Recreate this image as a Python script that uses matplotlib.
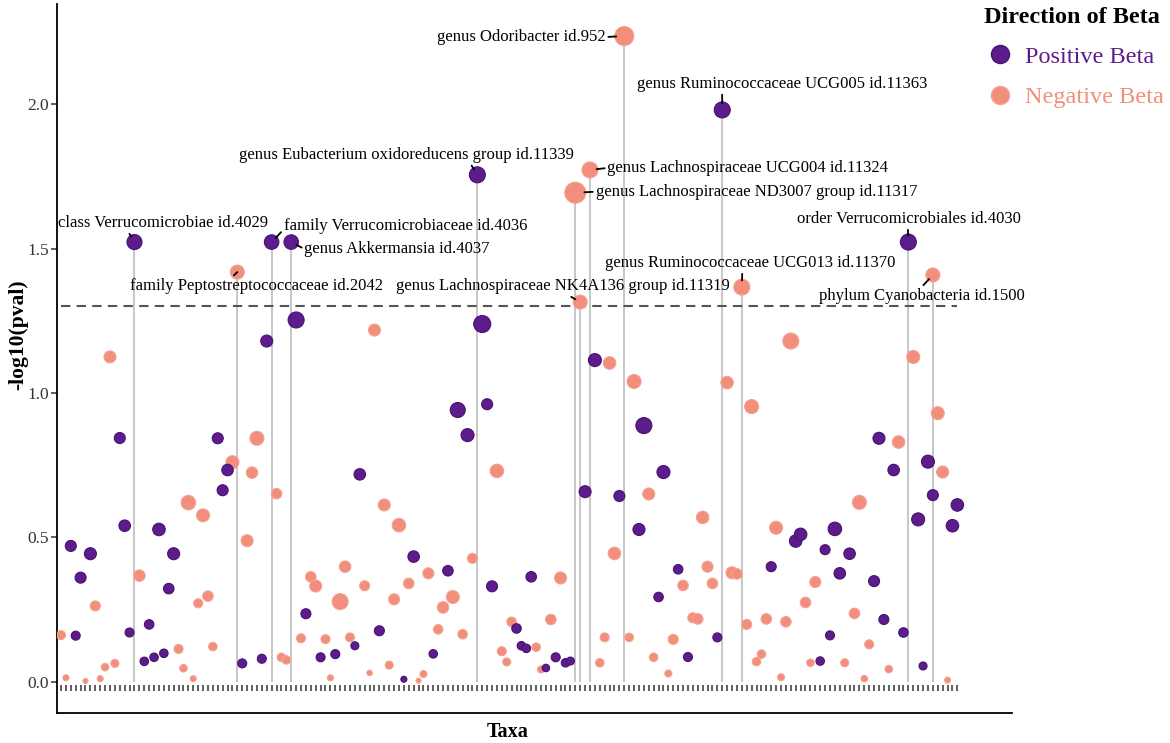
import numpy as np
import matplotlib.pyplot as plt
from matplotlib.lines import Line2D

plt.rcParams['font.family'] = ['Liberation Serif', 'DejaVu Serif']

# category index of each taxon on the x axis, -log10(p), direction of beta, point size variable
pos = list(range(0, 179)) + [178] + list(range(179, 184))
neglogp = [
    0.161, 0.013, 0.470, 0.159, 0.360, 0.002, 0.443, 0.262, 0.010, 0.050,
    1.125, 0.063, 0.844, 0.540, 0.170, 1.523, 0.367, 0.070, 0.198, 0.084,
    0.527, 0.098, 0.322, 0.443, 0.113, 0.046, 0.620, 0.010, 0.271, 0.576,
    0.296, 0.121, 0.843, 0.663, 0.733, 0.760, 1.419, 0.063, 0.488, 0.724,
    0.843, 0.079, 1.180, 1.523, 0.651, 0.084, 0.075, 1.523, 1.253, 0.150,
    0.235, 0.363, 0.331, 0.084, 0.147, 0.013, 0.095, 0.277, 0.398, 0.153,
    0.124, 0.718, 0.332, 0.030, 1.218, 0.176, 0.612, 0.057, 0.285, 0.542,
    0.008, 0.340, 0.433, 0.003, 0.026, 0.375, 0.096, 0.181, 0.257, 0.384,
    0.293, 0.941, 0.164, 0.854, 0.427, 1.756, 1.239, 0.961, 0.330, 0.730,
    0.105, 0.068, 0.207, 0.184, 0.124, 0.115, 0.363, 0.119, 0.042, 0.047,
    0.215, 0.084, 0.359, 0.065, 0.071, 1.694, 1.315, 0.658, 1.773, 1.114,
    0.065, 0.153, 1.104, 0.444, 0.643, 2.237, 0.153, 1.040, 0.527, 0.887,
    0.650, 0.084, 0.293, 0.726, 0.028, 0.146, 0.389, 0.333, 0.085, 0.221,
    0.217, 0.569, 0.398, 0.340, 0.153, 1.981, 1.036, 0.377, 0.373, 1.367,
    0.198, 0.953, 0.069, 0.095, 0.217, 0.398, 0.533, 0.015, 0.207, 1.180,
    0.487, 0.510, 0.274, 0.065, 0.345, 0.071, 0.457, 0.160, 0.529, 0.375,
    0.065, 0.443, 0.236, 0.621, 0.010, 0.129, 0.348, 0.843, 0.215, 0.043,
    0.733, 0.830, 0.170, 1.523, 1.125, 0.562, 0.054, 0.762, 1.409, 0.646,
    0.930, 0.726, 0.005, 0.540, 0.612,
]
direction = (
    "NNPPPNPNNN" "NNPPPPNPPP" "PPPPNNNNNN" "NNPPPNNPNN"
    "NPPPNNNPPN" "PNNPNNPNNN" "PPNNNPNNNN" "PNPNNNPNNP"
    "NPNPNPPPPN" "NNNPPPPNNP" "NPNPPNNPNP" "NNNNPNNNPP"
    "NNPPNNPNPN" "NNNNPPNNNN" "NNNNNPNNNN" "PPNNNPPPPP"
    "NPNNNNPPPN" "PNPPNPPPNP" "NNNPP"
)
size_var = [
    9, 6, 11, 9, 11, 5, 12, 10, 6, 7.5,
    12, 8, 11, 11.5, 9, 15, 11.5, 8.5, 9.5, 8.5,
    12.5, 8.5, 10.5, 12, 9, 7.5, 14.5, 6, 9, 13,
    10.5, 8.5, 11, 11, 11.5, 13, 14, 9, 12, 11.5,
    14, 9, 12, 14.5, 10.5, 8.5, 8.5, 14.5, 16, 9,
    10, 10.5, 12, 9, 9, 6, 9, 16, 11.5, 9,
    8, 11.5, 10, 5.5, 12, 10, 12, 8, 11, 13.5,
    6, 10.5, 11.5, 5, 7, 11, 8.5, 9.5, 11.5, 10.5,
    13, 15, 9.5, 13, 10, 16, 17, 11, 11, 13.5,
    9, 8, 9.5, 9.5, 8.5, 8.5, 10.5, 8.5, 7, 7.5,
    10.5, 9, 12, 8.5, 8, 21, 14, 12, 16, 13,
    8.5, 9, 12.5, 12.5, 11, 19, 8.5, 14, 12, 16,
    12, 8.5, 9.5, 13, 7, 10, 9.5, 10.5, 9, 10,
    10.5, 12.5, 11, 10.5, 9, 16, 12.5, 12, 10.5, 16,
    10, 14, 8.5, 8.5, 10.5, 10, 13, 7, 10.5, 16,
    12.5, 12.5, 10.5, 7.5, 11, 8.5, 10, 9, 13.5, 11.5,
    8, 11.5, 10.5, 14, 6.5, 9, 11, 12, 10, 7.5,
    11.5, 12.5, 9.5, 16, 13, 13, 8, 13, 14, 11,
    13, 12, 6, 12.5, 12.5,
]

labeled_pos = [15, 36, 43, 47, 85, 105, 106, 108, 115, 135, 139, 173, 178]
labeled_names = [
    "class Verrucomicrobiae id.4029",
    "family Peptostreptococcaceae id.2042",
    "family Verrucomicrobiaceae id.4036",
    "genus Akkermansia id.4037",
    "genus Eubacterium oxidoreducens group id.11339",
    "genus Lachnospiraceae ND3007 group id.11317",
    "genus Lachnospiraceae NK4A136 group id.11319",
    "genus Lachnospiraceae UCG004 id.11324",
    "genus Odoribacter id.952",
    "genus Ruminococcaceae UCG005 id.11363",
    "genus Ruminococcaceae UCG013 id.11370",
    "order Verrucomicrobiales id.4030",
    "phylum Cyanobacteria id.1500",
]
# where each label sits relative to its point (pixels) and where its leader leaves the text
label_offsets = [
    (29, 19), (19, -14), (134, 16), (106, -7), (-71, 20), (181, 1),
    (-17, 16), (158, 2), (-103, -1), (60, 26), (8, 24), (1, 23), (-11, -21),
]
leader_relpos = [
    (0.33, 0.0), (0.40, 1.0), (0.0, 0.3), (0.0, 0.5), (0.69, 0.0), (0.0, 0.5),
    (0.51, 0.0), (0.0, 0.5), (1.0, 0.5), (0.293, 0.0), (0.474, 0.0), (0.493, 0.0),
    (0.495, 1.0),
]

purple = '#5C1C8B'
purple_edge = '#4A1272'
salmon = '#F18E7C'
salmon_edge = '#F5A191'

pos = np.array(pos)
neglogp = np.array(neglogp)
is_pos = np.array([c == 'P' for c in direction])
size_var = np.array(size_var, dtype=float)
area = (0.72 * size_var) ** 2

fig = plt.figure(figsize=(11.7, 7.43), dpi=100)
ax = fig.add_axes([57 / 1170, 30 / 743, 955 / 1170, 709 / 743])

# grey stems for the labelled taxa
stem_vals = [neglogp[pos == p].max() for p in labeled_pos]
ax.vlines(labeled_pos, 0, stem_vals, color='#BDBDBD', lw=1.2, zorder=1)

ax.hlines(1.3, 0, pos.max(), color='#555555', lw=1.5, linestyles=(0, (4.5, 3)), zorder=1)

ax.scatter(pos[~is_pos], neglogp[~is_pos], s=area[~is_pos], c=salmon,
           edgecolors=salmon_edge, linewidths=0.8, zorder=3)
ax.scatter(pos[is_pos], neglogp[is_pos], s=area[is_pos], c=purple,
           edgecolors=purple_edge, linewidths=0.8, zorder=3)

# little tick row under the zero line
ax.vlines(np.arange(pos.max() + 1), -0.033, -0.012, color='#333333', lw=1.1, zorder=2)

for p, name, (dx, dy), rp in zip(labeled_pos, labeled_names, label_offsets, leader_relpos):
    k = np.where(pos == p)[0][np.argmax(neglogp[pos == p])]
    r = 0.72 * size_var[k] / 2
    ax.annotate(name, xy=(p, neglogp[k]), xytext=(dx, dy), textcoords='offset pixels',
                ha='center', va='center', fontsize=12, color='black',
                annotation_clip=False, zorder=4,
                arrowprops=dict(arrowstyle='-', color='black', lw=1.3, relpos=rp,
                                shrinkA=0, shrinkB=r - 1))

ax.set_xlim(-0.817, 194.16)
ax.set_ylim(-0.109, 2.348)
ax.set_xticks([])
ax.set_yticks([0.0, 0.5, 1.0, 1.5, 2.0])
ax.set_yticklabels(['0.0', '0.5', '1.0', '1.5', '2.0'])
ax.tick_params(axis='y', length=4, width=1.1, color='#333333', labelcolor='#333333',
               labelsize=12.5, pad=2)
for side in ['top', 'right']:
    ax.spines[side].set_visible(False)
for side in ['left', 'bottom']:
    ax.spines[side].set_linewidth(1.3)
    ax.spines[side].set_color('black')

ax.set_ylabel('-log10(pval)', fontsize=15.5, fontweight='bold', va='center')
ax.yaxis.set_label_coords(-0.0408, 0.533)
ax.set_xlabel('Taxa', fontsize=14.5, fontweight='bold', va='center')
ax.xaxis.set_label_coords(0.472, -0.027)

handles = [
    Line2D([], [], marker='o', ls='', markersize=13, markerfacecolor=purple,
           markeredgecolor=purple_edge),
    Line2D([], [], marker='o', ls='', markersize=13, markerfacecolor=salmon,
           markeredgecolor=salmon_edge),
]
fig.legend(handles, ['Positive Beta', 'Negative Beta'], loc='upper left',
           bbox_to_anchor=(974 / 1170, 1.004), bbox_transform=fig.transFigure,
           frameon=False, title='Direction of Beta',
           title_fontproperties={'weight': 'bold', 'size': 17.5},
           prop={'size': 17.5}, labelcolor=[purple, salmon], alignment='left',
           handlelength=1.3, handletextpad=0.4, labelspacing=0.75, borderaxespad=0)

fig.savefig('out.png', dpi=100)
